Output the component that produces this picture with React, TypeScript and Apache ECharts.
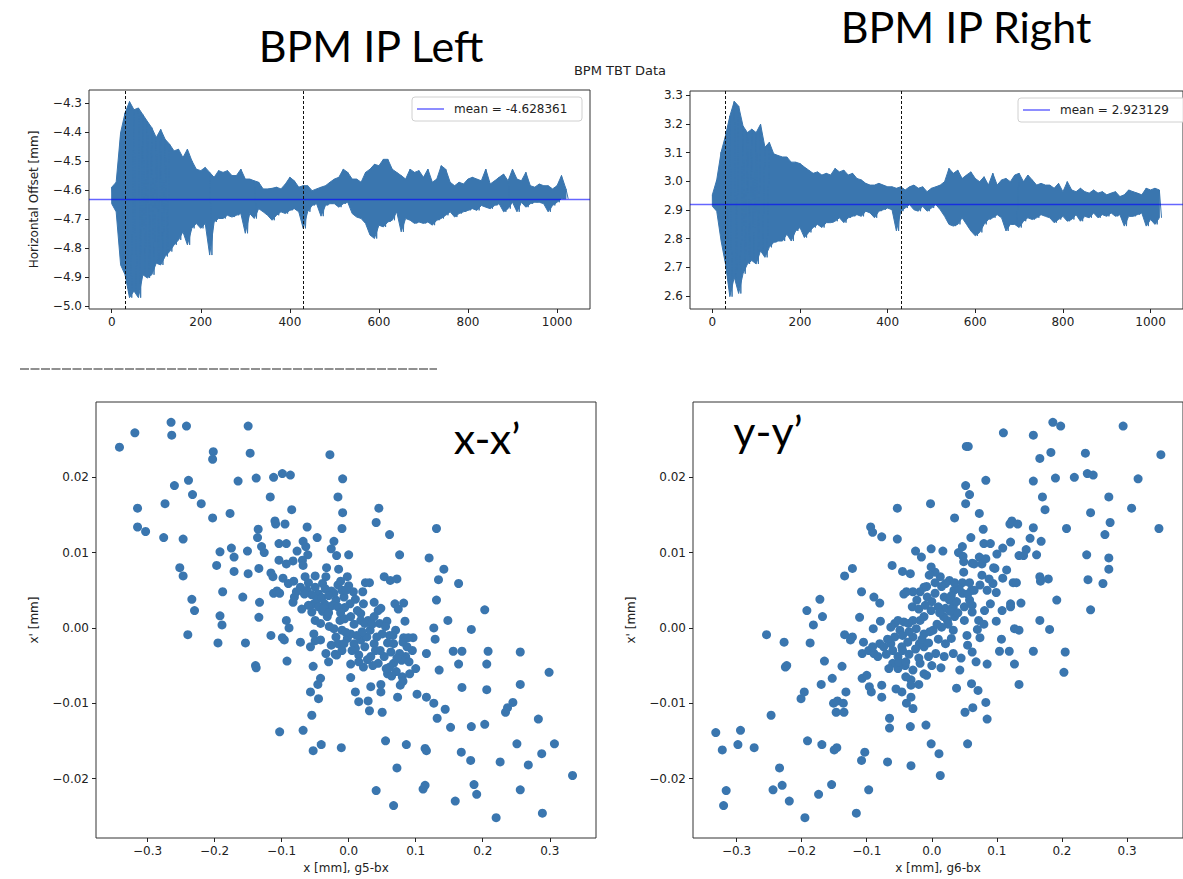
import React, { useEffect, useRef } from "react";
import * as echarts from "echarts";

// ---- Turn-by-turn envelope readings (every 10 turns, t = 0..1020) ----
const turnStep = 10;
const leftHi = [-4.590,-4.573,-4.402,-4.334,-4.295,-4.323,-4.317,-4.340,-4.363,-4.385,-4.419,-4.391,-4.425,-4.442,-4.465,-4.459,-4.488,-4.459,-4.499,-4.528,-4.533,-4.522,-4.539,-4.556,-4.533,-4.539,-4.533,-4.550,-4.550,-4.528,-4.562,-4.562,-4.568,-4.573,-4.596,-4.596,-4.594,-4.590,-4.596,-4.579,-4.556,-4.568,-4.590,-4.585,-4.585,-4.602,-4.596,-4.590,-4.585,-4.573,-4.562,-4.556,-4.528,-4.539,-4.562,-4.562,-4.573,-4.539,-4.528,-4.511,-4.516,-4.494,-4.494,-4.528,-4.539,-4.550,-4.562,-4.528,-4.539,-4.533,-4.556,-4.528,-4.573,-4.562,-4.516,-4.528,-4.573,-4.585,-4.573,-4.579,-4.562,-4.556,-4.562,-4.568,-4.528,-4.579,-4.568,-4.556,-4.545,-4.568,-4.528,-4.562,-4.568,-4.539,-4.585,-4.590,-4.579,-4.585,-4.585,-4.596,-4.585,-4.550,-4.596];
const leftLo = [-4.647,-4.675,-4.858,-4.892,-4.971,-4.948,-4.971,-4.892,-4.903,-4.892,-4.852,-4.858,-4.829,-4.812,-4.789,-4.772,-4.744,-4.789,-4.732,-4.715,-4.732,-4.715,-4.824,-4.710,-4.698,-4.698,-4.687,-4.693,-4.687,-4.681,-4.749,-4.681,-4.698,-4.664,-4.675,-4.687,-4.704,-4.687,-4.675,-4.681,-4.670,-4.664,-4.675,-4.732,-4.675,-4.653,-4.647,-4.690,-4.653,-4.647,-4.647,-4.659,-4.647,-4.642,-4.681,-4.693,-4.698,-4.715,-4.755,-4.767,-4.721,-4.727,-4.710,-4.704,-4.675,-4.744,-4.698,-4.704,-4.715,-4.710,-4.715,-4.710,-4.721,-4.704,-4.698,-4.687,-4.675,-4.693,-4.681,-4.675,-4.670,-4.664,-4.670,-4.653,-4.659,-4.664,-4.653,-4.647,-4.675,-4.664,-4.642,-4.675,-4.642,-4.659,-4.647,-4.642,-4.642,-4.647,-4.675,-4.653,-4.642,-4.630,-4.630];
const rightHi = [2.953,3.005,3.102,3.159,3.228,3.279,3.262,3.193,3.170,3.182,3.170,3.199,3.119,3.136,3.096,3.090,3.085,3.085,3.067,3.067,3.062,3.050,3.039,3.028,3.033,3.022,3.028,3.022,3.045,3.033,3.039,3.022,3.028,3.010,3.005,2.993,2.987,2.987,2.993,2.987,2.981,2.981,2.976,2.981,2.970,2.981,2.987,2.976,2.981,2.964,2.976,2.981,2.987,2.999,3.045,3.028,3.039,3.010,3.022,3.033,3.010,2.999,3.016,2.987,3.028,2.987,3.005,3.010,2.999,3.022,3.028,2.999,3.022,3.005,2.987,2.993,2.987,2.987,2.976,2.993,2.964,2.999,2.970,2.964,2.976,2.964,2.959,2.970,2.959,2.964,2.953,2.959,2.964,2.947,2.953,2.970,2.964,2.959,2.953,2.976,2.970,2.976,2.970];
const rightLo = [2.913,2.896,2.792,2.712,2.598,2.666,2.609,2.678,2.712,2.724,2.712,2.758,2.735,2.770,2.787,2.792,2.792,2.816,2.792,2.827,2.839,2.804,2.822,2.839,2.850,2.839,2.856,2.856,2.861,2.873,2.856,2.873,2.878,2.884,2.878,2.896,2.890,2.873,2.896,2.901,2.907,2.901,2.827,2.896,2.907,2.919,2.901,2.896,2.913,2.896,2.907,2.919,2.901,2.878,2.850,2.844,2.850,2.873,2.850,2.827,2.810,2.822,2.850,2.867,2.873,2.884,2.873,2.827,2.850,2.850,2.839,2.861,2.873,2.867,2.873,2.884,2.878,2.873,2.856,2.867,2.878,2.861,2.867,2.884,2.861,2.878,2.873,2.890,2.873,2.884,2.878,2.890,2.878,2.884,2.844,2.878,2.878,2.884,2.890,2.844,2.867,2.850,2.873];
const leftMean = -4.628361;
const rightMean = 2.923129;
const markerTurns = [30, 430];

const turnTicks = [0, 200, 400, 600, 800, 1000];
const leftYTicks = [-5.0, -4.9, -4.8, -4.7, -4.6, -4.5, -4.4, -4.3];
const rightYTicks = [2.6, 2.7, 2.8, 2.9, 3.0, 3.1, 3.2, 3.3];
const phaseXTicks = [-0.3, -0.2, -0.1, 0.0, 0.1, 0.2, 0.3];
const phaseYTicks = [-0.02, -0.01, 0.0, 0.01, 0.02];

// ---- Phase-space points (x [mm], x' [mm]) ----
const xxPoints = [[-0.342,0.0240],[-0.319,0.0259],[-0.265,0.0273],[-0.264,0.0256],[-0.242,0.0268],[-0.150,0.0268],[-0.147,0.0232],[-0.202,0.0234],[-0.203,0.0224],[-0.028,0.0230],[-0.260,0.0189],[-0.239,0.0196],[-0.233,0.0177],[-0.220,0.0165],[-0.274,0.0165],[-0.315,0.0159],[-0.315,0.0134],[-0.303,0.0128],[-0.276,0.0120],[-0.247,0.0118],[-0.203,0.0146],[-0.177,0.0152],[-0.165,0.0195],[-0.138,0.0199],[-0.112,0.0200],[-0.099,0.0205],[-0.087,0.0203],[-0.117,0.0174],[-0.085,0.0157],[-0.009,0.0198],[-0.016,0.0174],[-0.009,0.0153],[-0.010,0.0132],[0.045,0.0159],[0.041,0.0140],[0.061,0.0124],[0.131,0.0132],[0.076,0.0097],[0.120,0.0093],[0.142,0.0078],[0.134,0.0064],[0.164,0.0059],[0.131,0.0037],[0.203,0.0024],[0.148,0.0010],[0.183,-0.0002],[0.127,0.0000],[0.129,-0.0015],[0.156,-0.0031],[0.169,-0.0031],[0.208,-0.0031],[0.256,-0.0032],[0.116,-0.0034],[0.164,-0.0048],[0.206,-0.0048],[0.135,-0.0056],[0.299,-0.0059],[0.169,-0.0079],[0.206,-0.0082],[0.256,-0.0075],[0.245,-0.0099],[0.237,-0.0106],[0.234,-0.0112],[0.144,-0.0108],[0.127,-0.0100],[0.116,-0.0092],[0.102,-0.0088],[0.132,-0.0120],[0.152,-0.0132],[0.183,-0.0131],[0.203,-0.0128],[0.283,-0.0121],[0.251,-0.0154],[0.307,-0.0154],[0.168,-0.0165],[0.182,-0.0176],[0.226,-0.0178],[0.268,-0.0182],[0.288,-0.0167],[0.334,-0.0196],[0.256,-0.0215],[0.187,-0.0208],[0.191,-0.0221],[0.159,-0.0230],[0.220,-0.0252],[0.289,-0.0246],[0.114,-0.0160],[0.116,-0.0163],[0.086,-0.0155],[0.055,-0.0150],[0.072,-0.0186],[0.041,-0.0216],[0.067,-0.0236],[0.111,-0.0214],[0.114,-0.0209],[0.050,-0.0112],[0.031,-0.0110],[0.029,-0.0097],[0.033,-0.0078],[0.048,-0.0075],[0.048,-0.0085],[0.073,-0.0092],[0.010,-0.0085],[0.015,-0.0098],[0.003,-0.0066],[0.003,-0.0048],[-0.011,-0.0159],[-0.041,-0.0155],[-0.053,-0.0163],[-0.068,-0.0136],[-0.103,-0.0138],[-0.055,-0.0116],[-0.045,-0.0094],[-0.057,-0.0085],[-0.046,-0.0075],[-0.042,-0.0067],[-0.053,-0.0051],[-0.092,-0.0044],[-0.072,-0.0019],[-0.096,-0.0016],[-0.099,-0.0013],[-0.116,-0.0010],[-0.089,0.0000],[-0.093,0.0010],[-0.154,-0.0020],[-0.195,-0.0020],[-0.189,0.0004],[-0.192,0.0016],[-0.240,-0.0009],[-0.230,0.0023],[-0.234,0.0038],[-0.139,-0.0050],[-0.138,-0.0053],[-0.134,0.0014],[-0.133,0.0034],[-0.158,0.0041],[-0.188,0.0048],[-0.171,0.0075],[-0.150,0.0072],[-0.197,0.0083],[-0.252,0.0080],[-0.247,0.0069],[-0.192,0.0101],[-0.175,0.0106],[-0.171,0.0094],[-0.151,0.0102],[-0.135,0.0131],[-0.136,0.0120],[-0.130,0.0108],[-0.126,0.0100],[-0.134,0.0079],[-0.116,0.0073],[-0.113,0.0068],[-0.110,0.0142],[-0.109,0.0138],[-0.095,0.0138],[-0.104,0.0112],[-0.093,0.0112],[-0.104,0.0090],[-0.093,0.0085],[-0.083,0.0089],[-0.077,0.0102],[-0.068,0.0115],[-0.062,0.0134],[-0.047,0.0120],[-0.064,0.0108],[-0.061,0.0097],[-0.069,0.0090],[-0.068,0.0083],[-0.026,0.0105],[-0.022,0.0115],[-0.018,0.0096],[0.000,0.0097],[-0.015,0.0078],[-0.033,0.0080],[-0.034,0.0068],[-0.050,0.0069],[-0.065,0.0068],[-0.098,0.0066],[-0.090,0.0059],[-0.082,0.0062],[-0.112,0.0046],[-0.107,0.0049],[-0.103,0.0046],[-0.081,0.0041],[-0.083,0.0034],[-0.070,0.0025],[-0.062,0.0050],[-0.050,0.0054],[-0.039,0.0059],[-0.045,0.0045],[-0.052,0.0032],[-0.055,0.0021],[-0.050,0.0010],[-0.042,0.0006],[-0.032,0.0015],[-0.026,0.0049],[-0.016,0.0057],[-0.007,0.0041],[-0.002,0.0068],[0.000,0.0056],[0.007,0.0048],[0.021,0.0048],[0.025,0.0060],[0.031,0.0060],[0.053,0.0068],[0.062,0.0063],[0.072,0.0065],[0.038,0.0034],[0.048,0.0026],[0.069,0.0032],[0.082,0.0033],[0.074,0.0025],[0.057,0.0009],[0.084,0.0009],[0.070,-0.0003],[0.061,-0.0010],[0.082,-0.0013],[0.096,-0.0013],[0.087,-0.0025],[0.085,-0.0038],[0.100,-0.0054],[0.091,-0.0061],[0.080,-0.0065],[0.077,-0.0076],[0.081,-0.0071],[0.058,-0.0061],[0.053,-0.0038],[0.044,-0.0047],[0.033,-0.0038],[0.022,-0.0052],[0.015,-0.0036],[0.010,-0.0027],[0.008,-0.0021],[0.018,-0.0016],[0.027,-0.0012],[0.032,-0.0003],[0.029,0.0010],[0.018,0.0019],[0.013,0.0023],[0.002,0.0032],[-0.006,0.0027],[-0.013,0.0010],[-0.010,-0.0003],[-0.019,-0.0012],[-0.016,-0.0021],[-0.026,-0.0023],[-0.034,-0.0034],[-0.018,-0.0036],[-0.002,-0.0014],[-0.007,-0.0021],[-0.042,-0.0016],[-0.052,-0.0008],[-0.057,-0.0025],[-0.050,-0.0017],[-0.022,-0.0001],[-0.029,0.0002],[-0.028,0.0028],[-0.019,0.0037],[-0.010,0.0050],[-0.022,0.0046],[-0.036,0.0032],[-0.039,0.0022],[0.044,0.0023],[0.046,0.0006],[0.050,-0.0008],[0.038,-0.0021],[0.047,-0.0030],[0.063,-0.0032],[0.067,-0.0021],[0.076,-0.0034],[0.079,-0.0043],[0.067,-0.0047],[0.061,-0.0052],[0.056,-0.0054],[0.089,-0.0013],[0.081,-0.0019],[0.018,0.0010],[0.024,0.0006],[0.038,0.0015],
[-0.060,0.0060],[-0.055,0.0044],[-0.047,0.0038],[-0.040,0.0040],[-0.035,0.0052],[-0.030,0.0043],[-0.045,0.0028],[-0.037,0.0026],[-0.030,0.0020],[-0.024,0.0030],[-0.016,0.0028],[-0.012,0.0020],[-0.006,0.0012],[0.003,0.0015],[0.008,0.0005],[0.003,-0.0008],[-0.004,-0.0006],[0.012,-0.0010],[0.020,-0.0005],[0.024,-0.0025],[0.015,-0.0045],[0.028,-0.0042],[0.036,-0.0050],[0.040,-0.0030],[0.042,-0.0012],[0.035,0.0005],[0.055,0.0002],[0.058,-0.0020],[0.066,-0.0010],[0.072,-0.0040],[0.071,-0.0058],[0.064,-0.0064],[0.090,-0.0045],[0.095,-0.0030],[-0.066,0.0045],[-0.072,0.0054],[-0.078,0.0048],[-0.060,0.0030],[-0.012,0.0062],[-0.004,0.0050],[0.010,0.0038],[0.022,0.0032],[-0.020,-0.0035],[-0.030,-0.0045],[-0.010,-0.0030],[0.005,-0.0030]];

const yyPoints = [[-0.332,-0.0139],[-0.322,-0.0162],[-0.294,-0.0136],[-0.298,-0.0155],[-0.273,-0.0159],[-0.316,-0.0216],[-0.320,-0.0236],[-0.247,-0.0116],[-0.254,-0.0009],[-0.234,-0.0186],[-0.244,-0.0215],[-0.230,-0.0209],[-0.219,-0.0230],[-0.195,-0.0252],[-0.191,-0.0150],[-0.174,-0.0221],[-0.154,-0.0208],[-0.169,-0.0155],[-0.150,-0.0162],[-0.146,-0.0159],[-0.116,-0.0246],[-0.108,-0.0176],[-0.103,-0.0165],[-0.097,-0.0215],[-0.068,-0.0178],[-0.032,-0.0183],[-0.065,-0.0133],[-0.065,-0.0120],[-0.033,-0.0131],[-0.009,-0.0129],[-0.001,-0.0154],[0.011,-0.0167],[0.013,-0.0196],[0.055,-0.0154],[0.051,-0.0112],[0.063,-0.0106],[0.085,-0.0121],[0.083,-0.0099],[0.071,-0.0083],[0.038,-0.0080],[0.085,-0.0048],[0.043,-0.0056],[0.014,-0.0053],[-0.201,-0.0094],[-0.196,-0.0085],[-0.170,-0.0075],[-0.153,-0.0067],[-0.147,-0.0112],[-0.151,-0.0100],[-0.145,-0.0097],[-0.136,-0.0100],[-0.135,-0.0112],[-0.132,-0.0085],[-0.138,-0.0051],[-0.165,-0.0044],[-0.225,-0.0052],[-0.223,-0.0050],[-0.227,-0.0019],[-0.187,-0.0020],[-0.182,0.0004],[-0.192,0.0023],[-0.168,0.0015],[-0.172,0.0038],[-0.134,-0.0009],[-0.122,-0.0012],[-0.125,-0.0016],[-0.134,0.0069],[-0.122,0.0079],[-0.108,0.0048],[-0.111,0.0014],[-0.089,0.0041],[-0.080,0.0033],[-0.090,-0.0001],[-0.079,0.0009],[-0.105,-0.0019],[-0.107,-0.0034],[-0.097,-0.0030],[-0.089,-0.0034],[-0.107,-0.0067],[-0.100,-0.0063],[-0.096,-0.0078],[-0.093,-0.0085],[-0.077,-0.0076],[-0.077,-0.0092],[-0.094,0.0134],[-0.091,0.0127],[-0.077,0.0121],[-0.053,0.0118],[-0.053,0.0159],[-0.061,0.0083],[-0.045,0.0075],[-0.033,0.0072],[-0.043,0.0045],[-0.025,0.0102],[-0.016,0.0094],[-0.001,0.0105],[0.017,0.0102],[-0.002,0.0165],[0.035,0.0146],[0.053,0.0241],[0.056,0.0241],[0.052,0.0189],[0.058,0.0177],[0.052,0.0165],[0.073,0.0152],[0.083,0.0196],[0.079,0.0131],[0.060,0.0120],[0.047,0.0108],[0.041,0.0100],[0.049,0.0088],[0.062,0.0086],[0.073,0.0094],[0.077,0.0085],[0.083,0.0092],[0.080,0.0112],[0.090,0.0112],[0.100,0.0098],[0.109,0.0106],[0.110,0.0259],[0.121,0.0114],[0.120,0.0138],[0.123,0.0142],[0.132,0.0138],[0.156,0.0256],[0.156,0.0195],[0.156,0.0133],[0.151,0.0119],[0.168,0.0115],[0.161,0.0097],[0.145,0.0104],[0.134,0.0096],[0.141,0.0096],[0.166,0.0225],[0.183,0.0233],[0.170,0.0174],[0.174,0.0157],[0.186,0.0273],[0.198,0.0268],[0.190,0.0199],[0.219,0.0200],[0.207,0.0132],[0.236,0.0232],[0.239,0.0205],[0.248,0.0203],[0.244,0.0153],[0.294,0.0268],[0.317,0.0198],[0.307,0.0159],[0.352,0.0230],[0.349,0.0132],[0.272,0.0174],[0.274,0.0140],[0.266,0.0124],[0.238,0.0097],[0.272,0.0093],[0.272,0.0078],[0.240,0.0064],[0.263,0.0059],[0.244,0.0024],[0.192,0.0037],[0.166,0.0068],[0.167,0.0062],[0.179,0.0065],[0.166,0.0010],[0.181,-0.0002],[0.156,-0.0031],[0.205,-0.0032],[0.203,-0.0059],[0.127,-0.0001],[0.127,-0.0048],[0.134,-0.0075],[0.104,-0.0031],[0.119,-0.0031],[0.107,-0.0015],[0.099,0.0009],[0.108,0.0023],[0.121,0.0028],[0.121,0.0032],[0.137,0.0033],[0.125,0.0060],[0.130,0.0060],[0.109,0.0066],[0.115,0.0077],[0.097,0.0079],[0.094,0.0059],[0.099,0.0047],[0.090,0.0032],[0.085,0.0050],[0.081,0.0023],[0.074,0.0057],[0.077,0.0070],[0.065,0.0085],[0.061,0.0050],[0.058,0.0037],[0.062,0.0021],[0.072,0.0010],[0.074,-0.0013],[0.070,-0.0002],[0.062,-0.0032],[0.055,-0.0023],[0.054,-0.0010],[0.050,0.0010],[0.050,0.0028],[0.047,0.0046],[0.047,0.0060],[0.049,0.0074],[0.034,0.0050],[0.027,0.0063],[0.021,0.0059],[0.013,0.0068],[0.005,0.0074],[-0.001,0.0081],[-0.004,0.0070],[-0.012,0.0054],[-0.018,0.0048],[-0.029,0.0048],[-0.030,0.0028],[-0.023,0.0037],[-0.007,0.0041],[0.005,0.0046],[0.019,0.0041],[0.027,0.0037],[0.033,0.0028],[0.021,0.0026],[0.010,0.0028],[-0.001,0.0023],[-0.012,0.0015],[-0.018,0.0010],[-0.029,0.0010],[-0.036,0.0006],[-0.024,-0.0001],[-0.012,-0.0008],[0.002,-0.0003],[0.015,0.0001],[0.024,0.0010],[0.035,0.0015],[0.033,-0.0003],[0.030,-0.0014],[0.021,-0.0021],[0.033,-0.0034],[0.019,-0.0038],[0.006,-0.0034],[-0.005,-0.0038],[-0.012,-0.0025],[-0.019,-0.0021],[-0.029,-0.0012],[-0.037,-0.0019],[-0.046,-0.0025],[-0.052,-0.0038],[-0.060,-0.0047],[-0.066,-0.0054],[-0.052,-0.0054],[-0.041,-0.0050],[-0.029,-0.0056],[-0.032,-0.0069],[-0.032,-0.0076],[-0.046,-0.0085],[-0.039,-0.0100],[-0.032,-0.0092],[-0.029,-0.0107],[-0.055,-0.0081],[-0.012,-0.0061],[-0.008,-0.0063],[-0.018,-0.0047],[-0.049,-0.0003],[-0.057,0.0006],[-0.063,0.0001],[-0.052,0.0010],[-0.043,0.0008],[-0.063,-0.0021],[-0.057,-0.0012],[-0.080,-0.0021],[-0.074,-0.0025],[-0.083,-0.0038],[-0.091,-0.0025],[-0.039,0.0048],[0.134,-0.0003],[0.061,-0.0074],
[-0.060,-0.0030],[-0.050,-0.0045],[-0.045,-0.0030],[-0.040,-0.0045],[-0.035,-0.0035],[-0.025,-0.0028],[-0.020,-0.0040],[-0.015,-0.0015],[-0.005,-0.0020],[-0.003,-0.0005],[0.008,0.0005],[0.010,-0.0015],[0.018,0.0015],[0.025,0.0005],[0.028,0.0022],[0.038,0.0035],[0.040,0.0020],[0.042,0.0052],[0.055,0.0045],[0.058,0.0060],[0.065,0.0050],[0.062,0.0030],[0.035,0.0060],[0.030,0.0043],[0.015,0.0055],[0.005,0.0060],[-0.008,0.0055],[-0.020,0.0025],[-0.010,0.0030],[0.000,0.0035],[0.012,0.0020],[-0.035,-0.0005],[-0.045,-0.0010],[-0.070,-0.0035],[-0.068,-0.0015],[0.068,-0.0045],[0.080,0.0005],[0.088,0.0065],[0.095,0.0080],[-0.020,-0.0075],[-0.040,-0.0065],[0.000,-0.0050],[0.045,-0.0040],[0.048,0.0095]];

const BLUE = "#3a76af";
const MEAN_COLOR = "rgba(0,0,255,0.6)";
const PLOT_FONT = "DejaVu Sans";
const SLIDE_FONT = "Lato";

const fmt = (d: number) => (v: number) => {
  const s = Math.abs(v) < 1e-9 ? (0).toFixed(d) : v.toFixed(d);
  return s.replace("-", "\u2212");
};

function valueAxis(gridIndex: number, min: number, max: number, ticks: number[], digits: number, extra: any = {}) {
  return {
    type: "value",
    gridIndex,
    min,
    max,
    splitLine: { show: false },
    axisLine: { show: false, onZero: false },
    axisTick: { show: true, length: 4, customValues: ticks, lineStyle: { color: "#222", width: 1 } },
    axisLabel: {
      customValues: ticks,
      formatter: fmt(digits),
      color: "#222",
      fontFamily: PLOT_FONT,
      fontSize: 12,
      margin: 7,
    },
    nameTextStyle: { fontFamily: PLOT_FONT, fontSize: 12, color: "#222" },
    ...extra,
  };
}

function markLines(mean: number) {
  return {
    silent: true,
    symbol: ["none", "none"],
    label: { show: false },
    animation: false,
    data: [
      { yAxis: mean, lineStyle: { color: MEAN_COLOR, type: "solid", width: 1.3 } },
      ...markerTurns.map((t) => ({ xAxis: t, lineStyle: { color: "#111", type: [3, 2], width: 1 } })),
    ],
  };
}

// Band of turn-by-turn oscillation: a polygon through the upper readings and back through the lower readings,
// plus a zig-zag trace between them, all positioned by the axis scales (api.coord).
function bandSeries(idx: number, hi: number[], lo: number[], mean: number) {
  return {
    type: "custom",
    coordinateSystem: "cartesian2d",
    xAxisIndex: idx,
    yAxisIndex: idx,
    silent: true,
    data: [[0, mean]],
    renderItem: (_params: any, api: any) => {
      const upper = hi.map((v, i) => api.coord([i * turnStep, v]));
      const lower = lo.map((v, i) => api.coord([i * turnStep, v])).reverse();
      const zig: number[][] = [];
      hi.forEach((v, i) => {
        zig.push(api.coord([i * turnStep, v]));
        zig.push(api.coord([i * turnStep + turnStep / 2, lo[i]]));
      });
      return {
        type: "group",
        children: [
          { type: "polygon", shape: { points: upper.concat(lower) }, style: { fill: BLUE, stroke: BLUE, lineWidth: 1 } },
          { type: "polyline", shape: { points: zig }, style: { stroke: BLUE, lineWidth: 1, fill: "none" } },
        ],
      };
    },
    markLine: markLines(mean),
  };
}

function legendBox(x: number, y: number, w: number, label: string) {
  return {
    type: "group",
    z: 100,
    children: [
      { type: "rect", shape: { x, y, width: w, height: 24, r: 3 }, style: { fill: "rgba(255,255,255,0.85)", stroke: "#d0d0d0", lineWidth: 1 } },
      { type: "line", shape: { x1: x + 5, y1: y + 12, x2: x + 32, y2: y + 12 }, style: { stroke: MEAN_COLOR, lineWidth: 1.5 } },
      { type: "text", x: x + 42, y: y + 12, style: { text: label, fill: "#222", font: `12px "${PLOT_FONT}"`, verticalAlign: "middle" } },
    ],
  };
}

export default function App() {
  const ref = useRef<HTMLDivElement>(null);
  useEffect(() => {
    if (!ref.current) return;
    const chart = echarts.init(ref.current, undefined, { renderer: "svg" });
    const gridBase = { show: true, borderColor: "#333", borderWidth: 1, backgroundColor: "transparent", containLabel: false };
    chart.setOption({
      animation: false,
      backgroundColor: "#fff",
      grid: [
        { ...gridBase, left: 89, top: 90, width: 501, height: 219 },
        { ...gridBase, left: 690, top: 91, width: 502, height: 218 },
        { ...gridBase, left: 96, top: 402, width: 500, height: 436 },
        { ...gridBase, left: 693, top: 402, width: 500, height: 436 },
      ],
      xAxis: [
        valueAxis(0, -51, 1074, turnTicks, 0),
        valueAxis(1, -51, 1074, turnTicks, 0),
        valueAxis(2, -0.377, 0.369, phaseXTicks, 1, { name: "x [mm], g5-bx", nameLocation: "middle", nameGap: 24 }),
        valueAxis(3, -0.367, 0.386, phaseXTicks, 1, { name: "x [mm], g6-bx", nameLocation: "middle", nameGap: 24 }),
      ],
      yAxis: [
        valueAxis(0, -5.01, -4.255, leftYTicks, 1, { name: "Horizontal Offset [mm]", nameLocation: "middle", nameGap: 49 }),
        valueAxis(1, 2.555, 3.315, rightYTicks, 1),
        valueAxis(2, -0.0279, 0.03, phaseYTicks, 2, { name: "x' [mm]", nameLocation: "middle", nameGap: 56 }),
        valueAxis(3, -0.0279, 0.03, phaseYTicks, 2, { name: "x' [mm]", nameLocation: "middle", nameGap: 56 }),
      ],
      series: [
        bandSeries(0, leftHi, leftLo, leftMean),
        bandSeries(1, rightHi, rightLo, rightMean),
        { type: "scatter", xAxisIndex: 2, yAxisIndex: 2, data: xxPoints, symbolSize: 9, itemStyle: { color: BLUE, opacity: 1 }, silent: true },
        { type: "scatter", xAxisIndex: 3, yAxisIndex: 3, data: yyPoints, symbolSize: 9, itemStyle: { color: BLUE, opacity: 1 }, silent: true },
      ],
      graphic: [
        { type: "text", x: 371, y: 45, z: 100, style: { text: "BPM IP Left", fill: "#000", font: `43px "${SLIDE_FONT}"`, align: "center", verticalAlign: "middle" } },
        { type: "text", x: 966, y: 26, z: 100, style: { text: "BPM IP Right", fill: "#000", font: `43px "${SLIDE_FONT}"`, align: "center", verticalAlign: "middle" } },
        { type: "text", x: 620, y: 70, z: 100, style: { text: "BPM TBT Data", fill: "#222", font: `13px "${PLOT_FONT}"`, align: "center", verticalAlign: "middle" } },
        { type: "text", x: 487, y: 437, z: 100, style: { text: "x-x\u2019", fill: "#000", font: `43px "${SLIDE_FONT}"`, align: "center", verticalAlign: "middle" } },
        { type: "text", x: 768, y: 430, z: 100, style: { text: "y-y\u2019", fill: "#000", font: `43px "${SLIDE_FONT}"`, align: "center", verticalAlign: "middle" } },
        { type: "line", z: 100, shape: { x1: 20, y1: 369, x2: 437, y2: 369 }, style: { stroke: "#222", lineWidth: 1.2, lineDash: [9, 1.5] } },
        legendBox(412, 97, 170, "mean = -4.628361"),
        legendBox(1018, 98, 175, "mean = 2.923129"),
      ],
    });
    return () => chart.dispose();
  }, []);
  return <div ref={ref} style={{ position: "absolute", left: 0, top: 0, width: 1183, height: 879 }} />;
}
